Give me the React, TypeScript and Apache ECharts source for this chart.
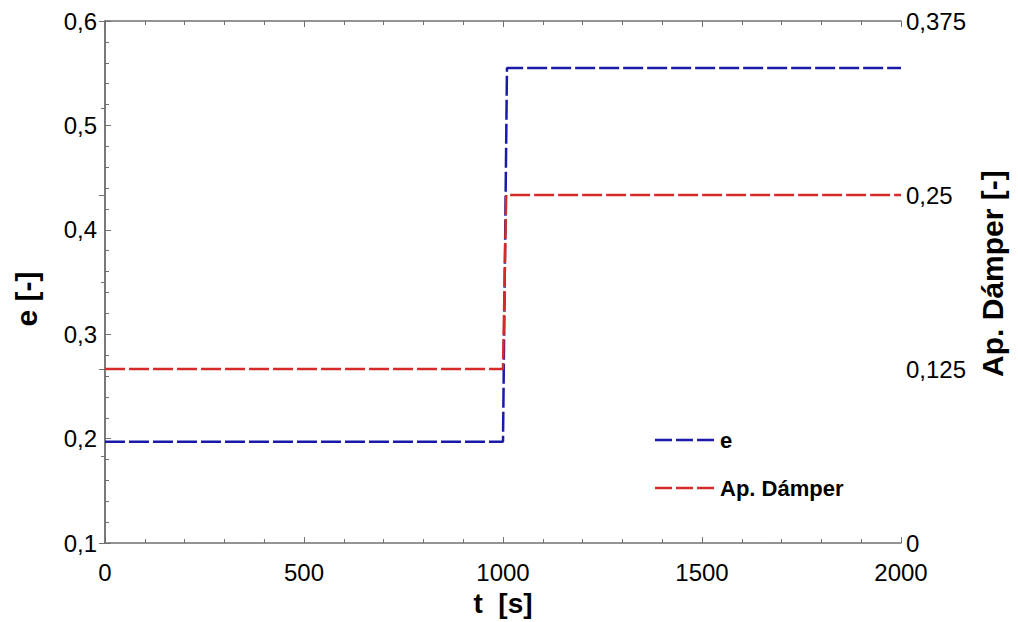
import React, { useEffect, useRef } from "react";
import * as echarts from "echarts";

const eData: [number, number][] = [
  [0, 0.197],
  [1000, 0.197],
  [1010, 0.555],
  [2000, 0.555],
];
const damperData: [number, number][] = [
  [0, 0.125],
  [1000, 0.125],
  [1008, 0.25],
  [2000, 0.25],
];
const seriesNames = ["e", "Ap. Dámper"];
const seriesColors = ["#1a1aa8", "#d42a2a"];
const xName = "t  [s]";
const yLeftName = "e [-]";
const yRightName = "Ap. Dámper [-]";

const fmt = (v: number) => String(Number(v.toFixed(4))).replace(".", ",");

export default function App() {
  const ref = useRef<HTMLDivElement>(null);
  useEffect(() => {
    document.body.style.margin = "0";
    const chart = echarts.init(ref.current!, null, { renderer: "svg" });
    const axisColor = "#707070";
    const font = "Liberation Sans, Arial, sans-serif";
    const tickLabel = { color: "#000", fontSize: 24, fontFamily: font };
    const nameStyle = { color: "#000", fontSize: 30, fontWeight: "bold" as const, fontFamily: font };
    const legendY = [440, 488];
    const legendGraphics: any[] = [];
    seriesNames.forEach((n, i) => {
      legendGraphics.push({
        type: "line",
        shape: { x1: 655, y1: legendY[i], x2: 717, y2: legendY[i] },
        style: { stroke: seriesColors[i], lineWidth: 2.5, lineDash: [17, 4] },
      });
      legendGraphics.push({
        type: "text",
        x: 720,
        y: legendY[i],
        style: {
          text: n,
          fill: "#000",
          font: `bold 22px ${font}`,
          verticalAlign: "middle",
          align: "left",
        },
      });
    });
    chart.setOption({
      animation: false,
      backgroundColor: "#fff",
      grid: { left: 105, right: 117, top: 21, bottom: 70 },
      graphic: legendGraphics,
      xAxis: [
        {
          type: "value",
          min: 0,
          max: 2000,
          interval: 500,
          name: xName,
          nameLocation: "middle",
          nameGap: 34,
          nameTextStyle: { ...nameStyle, fontSize: 28 },
          axisLine: { show: true, lineStyle: { color: axisColor, width: 1.5 } },
          axisTick: { show: true, inside: true, length: 6, lineStyle: { color: axisColor } },
          minorTick: { show: true, splitNumber: 5, length: 4, lineStyle: { color: axisColor } },
          axisLabel: { ...tickLabel, margin: 17, formatter: (v: number) => fmt(v) },
          splitLine: { show: false },
        },
        {
          type: "value",
          position: "top",
          min: 0,
          max: 2000,
          interval: 500,
          axisLine: { show: true, lineStyle: { color: axisColor, width: 1.5 } },
          axisTick: { show: true, inside: true, length: 6, lineStyle: { color: axisColor } },
          minorTick: { show: true, splitNumber: 5, length: 4, lineStyle: { color: axisColor } },
          axisLabel: { show: false },
          splitLine: { show: false },
        },
      ],
      yAxis: [
        {
          type: "value",
          min: 0.1,
          max: 0.6,
          interval: 0.1,
          name: yLeftName,
          nameLocation: "middle",
          nameGap: 64,
          nameTextStyle: { ...nameStyle, padding: [0, 34, 0, 0] },
          axisLine: { show: true, lineStyle: { color: axisColor, width: 1.5 } },
          axisTick: { show: true, inside: true, length: 6, lineStyle: { color: axisColor } },
          minorTick: { show: true, splitNumber: 5, length: 4, lineStyle: { color: axisColor } },
          axisLabel: { ...tickLabel, margin: 8, formatter: (v: number) => fmt(v) },
          splitLine: { show: false },
        },
        {
          type: "value",
          position: "right",
          min: 0,
          max: 0.375,
          interval: 0.125,
          name: yRightName,
          nameLocation: "middle",
          nameRotate: 90,
          nameGap: 76,
          nameTextStyle: { ...nameStyle, padding: [0, 0, 0, 17] },
          axisLine: { show: true, lineStyle: { color: axisColor, width: 1.5 } },
          axisTick: { show: true, inside: true, length: 6, lineStyle: { color: axisColor } },
          minorTick: { show: true, splitNumber: 2, length: 4, lineStyle: { color: axisColor } },
          axisLabel: { ...tickLabel, margin: 5, formatter: (v: number) => fmt(v) },
          splitLine: { show: false },
        },
      ],
      series: [
        {
          name: seriesNames[0],
          type: "line",
          data: eData,
          xAxisIndex: 0,
          yAxisIndex: 0,
          showSymbol: false,
          symbol: "none",
          lineStyle: { color: seriesColors[0], width: 2.5, type: [20, 4] },
          itemStyle: { color: seriesColors[0] },
        },
        {
          name: seriesNames[1],
          type: "line",
          data: damperData,
          xAxisIndex: 0,
          yAxisIndex: 1,
          showSymbol: false,
          symbol: "none",
          lineStyle: { color: seriesColors[1], width: 2.5, type: [20, 4] },
          itemStyle: { color: seriesColors[1] },
        },
      ],
    });
    return () => chart.dispose();
  }, []);
  return <div ref={ref} style={{ width: 1018, height: 622 }} />;
}
